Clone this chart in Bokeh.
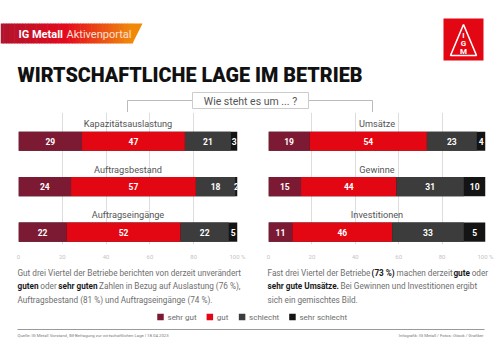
from bokeh.plotting import figure
from bokeh.models import Range1d, ColumnDataSource, FixedTicker
from bokeh.layouts import column, row
from bokeh.embed import file_html
from bokeh.resources import INLINE
from bokeh.core.properties import value

# ---------------- data ----------------
categories = ["sehr gut", "gut", "schlecht", "sehr schlecht"]
colors = ["#7d1a33", "#e30613", "#3c3c3c", "#141414"]

left_items = ["Kapazitätsauslastung", "Auftragsbestand", "Auftragseingänge"]
left_sehr_gut = [29, 24, 22]
left_gut = [47, 57, 52]
left_schlecht = [21, 18, 22]
left_sehr_schlecht = [3, 2, 5]

right_items = ["Umsätze", "Gewinne", "Investitionen"]
right_sehr_gut = [19, 15, 11]
right_gut = [54, 44, 46]
right_schlecht = [23, 31, 33]
right_sehr_schlecht = [4, 10, 5]

x_ticks = [0, 20, 40, 60, 80, 100]
tick_labels = {0: "0", 20: "20", 40: "40", 60: "60", 80: "80", 100: "100 %"}

title = "WIRTSCHAFTLICHE LAGE IM BETRIEB"
question = "Wie steht es um ... ?"
left_par = [
    [("Gut drei Viertel der Betriebe berichten von derzeit unverändert", False)],
    [("guten", True), (" oder ", False), ("sehr guten", True), (" Zahlen in Bezug auf Auslastung (76 %),", False)],
    [("Auftragsbestand (81 %) und Auftragseingänge (74 %).", False)],
]
right_par = [
    [("Fast drei Viertel der Betriebe ", False), ("(73 %)", True), (" machen derzeit ", False), ("gute", True), (" oder", False)],
    [("sehr gute Umsätze.", True), (" Bei Gewinnen und Investitionen ergibt", False)],
    [("sich ein gemischtes Bild.", False)],
]
source_txt = "Quelle: IG Metall Vorstand, IM-Befragung zur wirtschaftlichen Lage | 18.04.2023"
credit_txt = "Infografik: IG Metall / Fotos: iStock / Grafiker"

FONT = "Roboto"

# approximate Roboto advance widths (em)
_reg = {'a':.531,'b':.547,'c':.510,'d':.550,'e':.517,'f':.339,'g':.548,'h':.538,'i':.236,'j':.233,
        'k':.495,'l':.236,'m':.855,'n':.539,'o':.557,'p':.547,'q':.554,'r':.331,'s':.504,'t':.319,
        'u':.538,'v':.472,'w':.733,'x':.484,'y':.462,'z':.484,' ':.248,'.':.263,',':.196,'(':.342,
        ')':.348,'%':.733,'ä':.531,'ü':.538,'ö':.557,'|':.24,'/':.41,':':.24,'-':.27}
_bold = {'a':.544,'b':.561,'c':.523,'d':.563,'e':.530,'f':.353,'g':.561,'h':.551,'i':.254,'j':.25,
         'k':.52,'l':.254,'m':.875,'n':.551,'o':.570,'p':.561,'q':.565,'r':.345,'s':.516,'t':.334,
         'u':.551,'v':.49,'w':.75,'x':.5,'y':.48,'z':.5,' ':.248,'.':.27,',':.21,'(':.345,')':.35,
         '%':.731,'ä':.544,'ü':.551,'ö':.570}

def measure(s, size, bold=False):
    tbl = _bold if bold else _reg
    tot = 0.0
    for ch in s:
        if ch in tbl:
            tot += tbl[ch]
        elif ch.isdigit():
            tot += .562
        elif ch.isupper():
            tot += .66 if bold else .64
        else:
            tot += .5
    return tot * size


def base_fig(w, h, xr, yr):
    f = figure(width=w, height=h, x_range=xr, y_range=yr, output_backend="svg",
               toolbar_location=None, min_border=0)
    f.axis.visible = False
    f.grid.visible = False
    f.outline_line_color = None
    f.background_fill_color = "white"
    f.border_fill_color = "white"
    return f

# ---------------- header ----------------
H = 112
hdr = base_fig(500, H, Range1d(0, 500), Range1d(H, 0))

# banner gradient strips
def lerp(c1, c2, t):
    return "#%02x%02x%02x" % tuple(int(round(a + (b - a) * t)) for a, b in zip(c1, c2))
stops = [(0.0, (176, 20, 45)), (0.5, (228, 10, 30)), (1.0, (240, 140, 10))]
n = 48
xs_l, xs_r, cols = [], [], []
for i in range(n):
    t = (i + 0.5) / n
    for (t0, c0), (t1, c1) in zip(stops[:-1], stops[1:]):
        if t0 <= t <= t1:
            cols.append(lerp(c0, c1, (t - t0) / (t1 - t0)))
            break
    xs_l.append(132 * i / n)
    xs_r.append(132 * (i + 1) / n + 0.6)
hdr.quad(left=xs_l, right=xs_r, top=23, bottom=43, fill_color=cols, line_color=None)
hdr.patch([132, 142, 132], [23, 23, 43], fill_color=cols[-1], line_color=None)
hdr.text([18], [33.5], text=["IG Metall"], text_color="white", text_font=value(FONT),
         text_font_style="bold", text_font_size="11px", text_baseline="middle")
hdr.text([18 + measure("IG Metall", 11, True) + 2.5], [33.5], text=["Aktivenportal"],
         text_color="#ffe0d6", text_font=value(FONT), text_font_size="11px", text_baseline="middle")

# title
hdr.text([17], [75], text=[title], text_color="#111111", text_font=value("Roboto Black, Roboto"),
         text_font_style="bold", text_font_size="19.8px", text_baseline="middle")

# logo
hdr.quad(left=443, right=483, top=18, bottom=60, fill_color="#e30613", line_color=None)
hdr.line([463, 450, 476, 463], [24, 55, 55, 24], line_color="white", line_width=1.6)
hdr.text([463, 463, 463], [35, 43, 51], text=["I", "G", "M"], text_color="white",
         text_font=value(FONT), text_font_style="bold", text_font_size="8px",
         text_align="center", text_baseline="middle")

# question box + bracket
hdr.line([127, 192], [100, 100], line_color="#bbbbbb", line_width=1)
hdr.line([308, 372], [100, 100], line_color="#bbbbbb", line_width=1)
hdr.line([127, 127], [100, 112], line_color="#bbbbbb", line_width=1)
hdr.line([372, 372], [100, 112], line_color="#bbbbbb", line_width=1)
hdr.quad(left=192, right=308, top=92, bottom=108, fill_color="white", line_color="#cccccc")
hdr.text([250], [100.5], text=[question], text_color="#555555", text_font=value(FONT),
         text_font_size="10.5px", text_align="center", text_baseline="middle")

# ---------------- bar panels ----------------
PH = 150

def panel(items, sg, g, s, ss, ml, mr):
    f = figure(width=250, height=PH, x_range=Range1d(0, 100), y_range=Range1d(-2.273, 0.632),
               output_backend="svg", toolbar_location=None,
               min_border_left=ml, min_border_right=mr, min_border_top=0, min_border_bottom=12)
    f.outline_line_color = None
    f.yaxis.visible = False
    f.ygrid.visible = False
    f.xgrid.ticker = FixedTicker(ticks=x_ticks)
    f.xgrid.grid_line_color = "#dddddd"
    f.xaxis.ticker = FixedTicker(ticks=x_ticks)
    f.xaxis.major_label_overrides = tick_labels
    f.xaxis.axis_line_color = None
    f.xaxis.major_tick_line_color = None
    f.xaxis.minor_tick_line_color = None
    f.xaxis.major_label_standoff = 2
    f.xaxis.major_label_text_font_size = "6px"
    f.xaxis.major_label_text_color = "#c4c4c4"
    f.xaxis.major_label_text_font = FONT

    ys = [-i for i in range(len(items))]
    c1 = sg
    c2 = [a + b for a, b in zip(c1, g)]
    c3 = [a + b for a, b in zip(c2, s)]
    # full track in "sehr schlecht" colour, then the other segments on top
    f.hbar(y=ys, left=0, right=100, height=0.42, fill_color=colors[3], line_color=None)
    f.hbar(y=ys, left=0, right=c1, height=0.42, fill_color=colors[0], line_color=None)
    f.hbar(y=ys, left=c1, right=c2, height=0.42, fill_color=colors[1], line_color=None)
    f.hbar(y=ys, left=c2, right=c3, height=0.42, fill_color=colors[2], line_color=None)

    lx, ly, lt = [], [], []
    for i in range(len(items)):
        for a, b, v in [(0, c1[i], sg[i]), (c1[i], c2[i], g[i]), (c2[i], c3[i], s[i]), (c3[i], 100, ss[i])]:
            lx.append((a + b) / 2.0)
            ly.append(ys[i])
            lt.append(str(v))
    f.text(lx, ly, text=lt, text_color="white", text_font=value(FONT), text_font_style="bold",
           text_font_size="8.5px", text_align="center", text_baseline="middle")
    f.text([50] * len(items), [y + 0.38 for y in ys], text=items, text_color="#555555",
           text_font=value(FONT), text_font_size="9.2px", text_align="center",
           text_baseline="middle")
    return f

left = panel(left_items, left_sehr_gut, left_gut, left_schlecht, left_sehr_schlecht, 18, 13)
right = panel(right_items, right_sehr_gut, right_gut, right_schlecht, right_sehr_schlecht, 18, 15)

# ---------------- footer ----------------
FT = 262
ftr = base_fig(500, 353 - FT, Range1d(0, 500), Range1d(353, FT))

PSIZE = 8.2
def paragraph(fig, x0, lines, y0, dy):
    tx, ty, tt, tc, tw = [], [], [], [], []
    for li, runs in enumerate(lines):
        x = x0
        for txt, b in runs:
            lead = len(txt) - len(txt.lstrip(" "))
            core = txt.strip(" ")
            trail = len(txt) - lead - len(core)
            x += measure(" " * lead, PSIZE, b)
            tx.append(x)
            ty.append(y0 + li * dy)
            tt.append(core)
            tc.append("#1a1a1a" if b else "#6e6e6e")
            tw.append("bold" if b else "normal")
            x += measure(core, PSIZE, b) + measure(" " * trail, PSIZE, b)
    src = ColumnDataSource(dict(x=tx, y=ty, t=tt, c=tc, w=tw))
    fig.text("x", "y", text="t", text_color="c", text_font_style="w", source=src,
             text_font=value(FONT), text_font_size=f"{PSIZE}px", text_baseline="middle")

paragraph(ftr, 17, left_par, 272, 13.5)
paragraph(ftr, 267, right_par, 272, 13.5)

# legend
LS = 8
lx = 157
sq_x, sq_c, tx_x = [], [], []
for cat, col in zip(categories, colors):
    sq_x.append(lx + 3)
    sq_c.append(col)
    tx_x.append(lx + 10)
    lx += 10 + measure(cat, LS) + 11
ftr.scatter(sq_x, [316.5] * 4, marker="square", size=6.5, fill_color=sq_c, line_color=None)
ftr.text(tx_x, [316.5] * 4, text=categories, text_color="#6e6e6e", text_font=value(FONT),
         text_font_size=f"{LS}px", text_baseline="middle")

ftr.line([17, 484], [329, 329], line_color="#9a9a9a", line_width=1)
ftr.text([17], [334.5], text=[source_txt], text_color="#7a7a7a", text_font=value(FONT),
         text_font_size="4.3px", text_baseline="middle")
ftr.text([483], [334.5], text=[credit_txt], text_color="#7a7a7a", text_font=value(FONT),
         text_font_size="4.3px", text_baseline="middle", text_align="right")

layout = column(hdr, row(left, right), ftr)
open("out.html", "w").write(file_html(layout, INLINE))
